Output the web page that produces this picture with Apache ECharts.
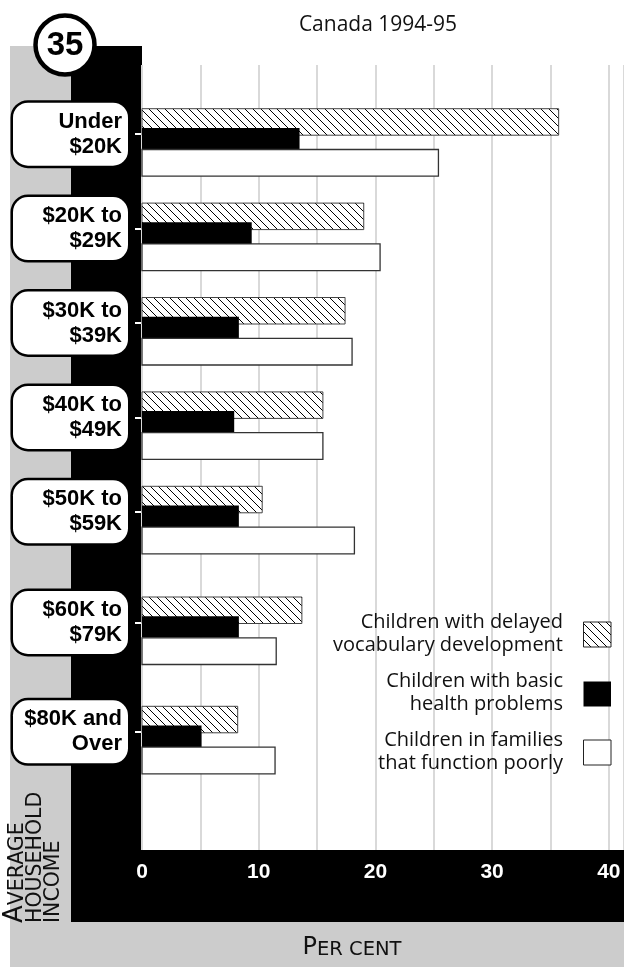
<!DOCTYPE html>
<html><head><meta charset="utf-8">
<script src="https://cdn.jsdelivr.net/npm/echarts@6/dist/echarts.min.js"></script>
<style>html,body{margin:0;padding:0;background:#fff}#chart{width:624px;height:967px}</style>
</head><body><div id="chart"></div>
<script>
// ---- data ----
const categories = ['Under\n$20K', '$20K to\n$29K', '$30K to\n$39K', '$40K to\n$49K', '$50K to\n$59K', '$60K to\n$79K', '$80K and\nOver'];
const vocabularyDelay = [35.7, 19.0, 17.4, 15.5, 10.3, 13.7, 8.2];
const healthProblems  = [13.5, 9.4, 8.3, 7.9, 8.3, 8.3, 5.1];
const poorFunctioning = [25.4, 20.4, 18.0, 15.5, 18.2, 11.5, 11.4];
const seriesNames = ['Children with delayed\nvocabulary development', 'Children with basic\nhealth problems', 'Children in families\nthat function poorly'];
const xTickLabels = [0, 10, 20, 30, 40];
const subtitle = 'Canada 1994-95';
const figureNumber = '35';
const yAxisTitle = ['VERAGE', 'HOUSEHOLD', 'INCOME'];
const xAxisTitle = ['P', 'ER CENT'];

// ---- styling ----
const BOLD = "'Liberation Sans',Arial,sans-serif";
const HUM = "'Open Sans',Lato,sans-serif";
const X_MAX = 41.3;
const firstBlock = 5; // rows 0-4 evenly spaced, rows 5-6 in a second, wider-spaced block
const SHIFT = 4.5;    // label boxes sit slightly above the bar-group centre

function hatchCanvas() {
  const s = 8, c = document.createElement('canvas');
  c.width = s; c.height = s;
  const g = c.getContext('2d');
  g.fillStyle = '#fff'; g.fillRect(0, 0, s, s);
  g.strokeStyle = '#000'; g.lineWidth = 1;
  g.beginPath();
  [-s, 0, s].forEach(k => { g.moveTo(k, 0); g.lineTo(k + s, s); });
  g.stroke();
  return c;
}
const hatch = { image: hatchCanvas(), repeat: 'repeat' };

const barStyles = [
  { fill: hatch, stroke: '#444', lineWidth: 1 },
  { fill: '#000', stroke: '#000', lineWidth: 0 },
  { fill: '#fff', stroke: '#333', lineWidth: 1.3 }
];
const barOffsets = [[-30, -3.5], [-10.8, 10.8], [10.8, 37.5]];
const allValues = [vocabularyDelay, healthProblems, poorFunctioning];

function catAxis(gi, cats) {
  return {
    type: 'category', gridIndex: gi, data: cats, inverse: true,
    axisLine: { show: false }, splitLine: { show: false },
    axisTick: { show: true, alignWithLabel: true, length: 7, lineStyle: { color: '#fff', width: 2 } },
    axisLabel: {
      interval: 0, margin: 14, color: '#000', fontFamily: BOLD, fontWeight: 'bold', fontSize: 22, lineHeight: 25,
      backgroundColor: '#fff', borderColor: '#000', borderWidth: 2.5, borderRadius: 15,
      padding: [13, 6, 0, 6], width: 103, align: 'right'
    }
  };
}

function barSeries(k, gi, start, end) {
  const t = barOffsets[k][0] + SHIFT, b = barOffsets[k][1] + SHIFT;
  return {
    type: 'custom', name: seriesNames[k], coordinateSystem: 'cartesian2d',
    xAxisIndex: gi, yAxisIndex: gi,
    data: allValues[k].slice(start, end).map((v, i) => [v, i]),
    encode: { x: 0, y: 1 },
    renderItem: (p, api) => {
      const a = api.coord([0, api.value(1)]);
      const e = api.coord([api.value(0), api.value(1)]);
      return { type: 'rect', shape: { x: a[0], y: a[1] + t, width: e[0] - a[0], height: b - t },
               style: Object.assign({}, barStyles[k]) };
    }
  };
}

const series = [];
for (let k = 0; k < 3; k++) series.push(barSeries(k, 1, 0, firstBlock));
for (let k = 0; k < 3; k++) series.push(barSeries(k, 2, firstBlock, categories.length));

const legendCenters = [634.5, 694, 752.5];
const legendGraphics = [];
seriesNames.forEach((n, k) => {
  legendGraphics.push({ type: 'text', x: 563, y: legendCenters[k] - 1, z: 20,
    style: { text: n, align: 'right', verticalAlign: 'middle', fontFamily: HUM, fontSize: 20, lineHeight: 23, fill: '#111' } });
  legendGraphics.push({ type: 'rect', z: 20, shape: { x: 583.5, y: legendCenters[k] - 12.5, width: 27.5, height: 25 },
    style: Object.assign({}, barStyles[k], k === 1 ? {} : { stroke: '#222', lineWidth: 1 }) });
});

const chart = echarts.init(document.getElementById('chart'), null, { renderer: 'canvas' });
chart.setOption({
  animation: false,
  backgroundColor: '#fff',
  grid: [
    { left: 142, right: 0, top: 65, bottom: 117 },
    { left: 142, right: 0, top: 91.5 - SHIFT, height: 472 },
    { left: 142, right: 0, top: 572.35 - SHIFT, height: 218.6 }
  ],
  xAxis: [
    { gridIndex: 0, type: 'value', min: 0, max: X_MAX, interval: 5,
      axisLine: { show: false }, axisTick: { show: false },
      splitLine: { show: true, lineStyle: { color: '#d9d9d9', width: 2 } },
      axisLabel: { margin: 12, color: '#fff', fontWeight: 'bold', fontSize: 21, fontFamily: BOLD,
        showMaxLabel: false, formatter: v => xTickLabels.includes(v) ? String(v) : '' } },
    { gridIndex: 1, type: 'value', min: 0, max: X_MAX, show: false },
    { gridIndex: 2, type: 'value', min: 0, max: X_MAX, show: false }
  ],
  yAxis: [
    { gridIndex: 0, type: 'value', show: false },
    catAxis(1, categories.slice(0, firstBlock)),
    catAxis(2, categories.slice(firstBlock))
  ],
  series,
  graphic: [
    { type: 'rect', z: -10, shape: { x: 10, y: 46, width: 61, height: 921 }, style: { fill: '#cccccc' } },
    { type: 'rect', z: -9, shape: { x: 71, y: 46, width: 71, height: 804 }, style: { fill: '#000' } },
    { type: 'rect', z: -9, shape: { x: 71, y: 850, width: 553, height: 72 }, style: { fill: '#000' } },
    { type: 'rect', z: -9, shape: { x: 10, y: 922, width: 614, height: 45 }, style: { fill: '#cccccc' } },
    { type: 'circle', z: 20, shape: { cx: 65, cy: 45, r: 29.5 }, style: { fill: '#fff', stroke: '#000', lineWidth: 4.5 } },
    { type: 'text', z: 21, x: 65, y: 46, style: { text: figureNumber, align: 'center', verticalAlign: 'middle',
        fontFamily: BOLD, fontWeight: 'bold', fontSize: 33, fill: '#000' } },
    { type: 'text', z: 20, x: 378, y: 25, style: { text: subtitle, align: 'center', verticalAlign: 'middle',
        fontFamily: HUM, fontSize: 21, fill: '#111' } },
    { type: 'text', z: 20, x: 10, y: 923, rotation: Math.PI / 2,
      style: { text: '{b|A}{s|' + yAxisTitle[0] + '}\n{s|' + yAxisTitle[1] + '}\n{s|' + yAxisTitle[2] + '}',
        align: 'left', verticalAlign: 'top',
        rich: { b: { fontFamily: "'DejaVu Sans',sans-serif", fontSize: 26, lineHeight: 18, fill: '#111', verticalAlign: 'bottom' },
                s: { fontFamily: "'DejaVu Sans',sans-serif", fontSize: 20.5, lineHeight: 18, fill: '#111', verticalAlign: 'bottom' } } } },
    { type: 'text', z: 20, x: 352, y: 947,
      style: { text: '{b|' + xAxisTitle[0] + '}{s|' + xAxisTitle[1] + '}', align: 'center', verticalAlign: 'middle',
        rich: { b: { fontFamily: "'DejaVu Sans',sans-serif", fontSize: 24, lineHeight: 26, fill: '#111', verticalAlign: 'bottom' },
                s: { fontFamily: "'DejaVu Sans',sans-serif", fontSize: 19.5, lineHeight: 26, fill: '#111', verticalAlign: 'bottom' } } } },
    ...legendGraphics
  ]
});
</script></body></html>
